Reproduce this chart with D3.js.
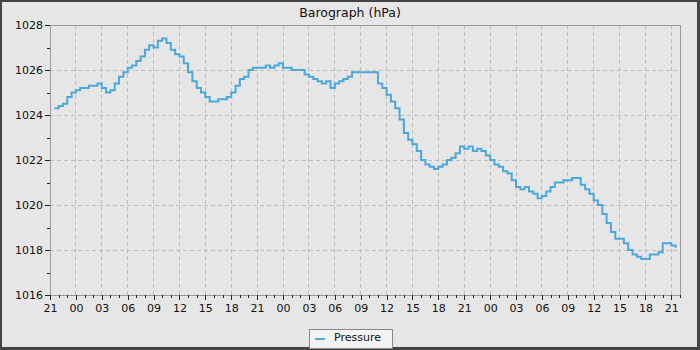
<!DOCTYPE html>
<html>
<head>
<meta charset="utf-8">
<script src="https://cdn.jsdelivr.net/npm/d3@7"></script>
<style>
  body { margin: 0; background: #e6e6e6; }
  svg { display: block; font-family: "DejaVu Sans", sans-serif; }
</style>
</head>
<body>
<div id="chart"></div>
<script>
// first reading and spacing of readings (half-hourly)
var startTime = new Date(Date.UTC(2024, 0, 1, 21, 30));
var stepMinutes = 30;

// pressure readings, hPa
var pressure = [
  1024.3, 1024.4, 1024.5, 1024.8, 1025.0, 1025.1, 1025.2, 1025.2, 1025.3, 1025.3,
  1025.4, 1025.2, 1025.0, 1025.1, 1025.4, 1025.7, 1025.9, 1026.1, 1026.2, 1026.4,
  1026.6, 1026.9, 1027.1, 1027.0, 1027.3, 1027.4, 1027.2, 1026.9, 1026.7, 1026.6,
  1026.3, 1025.9, 1025.5, 1025.2, 1025.0, 1024.8, 1024.6, 1024.6, 1024.7, 1024.7,
  1024.8, 1025.0, 1025.3, 1025.6, 1025.7, 1026.0, 1026.1, 1026.1, 1026.1, 1026.2,
  1026.1, 1026.2, 1026.3, 1026.1, 1026.1, 1026.0, 1026.0, 1026.0, 1025.8, 1025.7,
  1025.6, 1025.5, 1025.4, 1025.5, 1025.2, 1025.4, 1025.5, 1025.6, 1025.7, 1025.9,
  1025.9, 1025.9, 1025.9, 1025.9, 1025.9, 1025.4, 1025.2, 1024.9, 1024.6, 1024.3,
  1023.8, 1023.2, 1022.9, 1022.7, 1022.4, 1022.0, 1021.8, 1021.7, 1021.6, 1021.7,
  1021.8, 1022.0, 1022.1, 1022.3, 1022.6, 1022.5, 1022.6, 1022.4, 1022.5, 1022.4,
  1022.2, 1022.0, 1021.8, 1021.7, 1021.5, 1021.4, 1021.1, 1020.8, 1020.7, 1020.8,
  1020.6, 1020.5, 1020.3, 1020.4, 1020.6, 1020.8, 1021.0, 1021.0, 1021.1, 1021.1,
  1021.2, 1021.2, 1020.9, 1020.7, 1020.5, 1020.2, 1020.0, 1019.6, 1019.2, 1018.8,
  1018.5, 1018.5, 1018.3, 1018.0, 1017.8, 1017.7, 1017.6, 1017.6, 1017.8, 1017.8,
  1017.9, 1018.3, 1018.3, 1018.2, 1018.1
];

var timeDomain = [new Date(Date.UTC(2024, 0, 1, 21)), new Date(Date.UTC(2024, 0, 4, 22))];
var pressureDomain = [1016, 1028];
var pressureTicks = [1016, 1018, 1020, 1022, 1024, 1026, 1028];
var pressureMinorTicks = [1017, 1019, 1021, 1023, 1025, 1027];

var title = "Barograph (hPa)";
var seriesName = "Pressure";

var width = 700,
    height = 350,
    margin = { top: 25, right: 20, bottom: 55, left: 50 };

var data = pressure.map(function(p, i) {
    return { t: new Date(startTime.getTime() + i * stepMinutes * 60000), p: p };
});

var svg = d3.select('#chart').append('svg')
    .attr('width', width)
    .attr('height', height);

// outer panel with darker edge
svg.append('rect')
    .attr('width', width).attr('height', height)
    .attr('fill', '#444');
svg.append('rect')
    .attr('x', 2).attr('y', 2)
    .attr('width', width - 5).attr('height', height - 5)
    .attr('fill', '#e6e6e6');

var x = d3.scaleUtc()
    .domain(timeDomain)
    .range([margin.left, width - margin.right]);

var y = d3.scaleLinear()
    .domain(pressureDomain)
    .range([height - margin.bottom, margin.top]);

svg.append('text')
    .attr('x', width / 2)
    .attr('y', 17)
    .attr('text-anchor', 'middle')
    .attr('font-size', 12.5)
    .attr('fill', '#111')
    .text(title);

// grid
var grid = svg.append('g')
    .attr('stroke', '#bdbdbd')
    .attr('stroke-dasharray', '4,3')
    .attr('shape-rendering', 'crispEdges');

grid.selectAll('.vg')
    .data(x.ticks(d3.utcHour.every(3)))
    .enter().append('line')
    .attr('x1', function(d) { return x(d); })
    .attr('x2', function(d) { return x(d); })
    .attr('y1', margin.top)
    .attr('y2', height - margin.bottom);

grid.selectAll('.hg')
    .data(pressureTicks)
    .enter().append('line')
    .attr('x1', margin.left)
    .attr('x2', width - margin.right)
    .attr('y1', function(d) { return y(d); })
    .attr('y2', function(d) { return y(d); });

// plot frame
svg.append('rect')
    .attr('x', margin.left)
    .attr('y', margin.top)
    .attr('width', width - margin.left - margin.right)
    .attr('height', height - margin.top - margin.bottom)
    .attr('fill', 'none')
    .attr('stroke', '#999')
    .attr('shape-rendering', 'crispEdges');

// minor ticks
svg.append('g')
    .attr('transform', 'translate(0,' + (height - margin.bottom) + ')')
    .call(d3.axisBottom(x).ticks(d3.utcHour.every(1)).tickSize(3).tickFormat(''))
    .call(function(g) { g.select('.domain').remove(); });

svg.append('g')
    .attr('transform', 'translate(' + margin.left + ',0)')
    .call(d3.axisLeft(y).tickValues(pressureMinorTicks).tickSize(3).tickFormat(''))
    .call(function(g) { g.select('.domain').remove(); });

// major ticks + labels
var xAxis = svg.append('g')
    .attr('transform', 'translate(0,' + (height - margin.bottom) + ')')
    .call(d3.axisBottom(x).ticks(d3.utcHour.every(3)).tickSize(5).tickPadding(4)
        .tickFormat(d3.utcFormat('%H')));

var yAxis = svg.append('g')
    .attr('transform', 'translate(' + margin.left + ',0)')
    .call(d3.axisLeft(y).tickValues(pressureTicks).tickSize(5).tickPadding(2)
        .tickFormat(d3.format('d')));

[xAxis, yAxis].forEach(function(g) {
    g.select('.domain').remove();
    g.selectAll('text')
        .attr('font-family', '"DejaVu Sans", sans-serif')
        .attr('font-size', 11)
        .attr('fill', '#111');
});

svg.selectAll('.tick line').attr('stroke', '#222').attr('shape-rendering', 'crispEdges');

// pressure line
var line = d3.line()
    .curve(d3.curveStepAfter)
    .x(function(d) { return x(d.t); })
    .y(function(d) { return y(d.p); });

svg.append('path')
    .datum(data)
    .attr('fill', 'none')
    .attr('stroke', '#4ba8d8')
    .attr('stroke-width', 2)
    .attr('d', line);

// legend
var legend = svg.append('g').attr('transform', 'translate(309,329)');
legend.append('rect')
    .attr('x', 0.5).attr('y', 0.5)
    .attr('width', 83).attr('height', 19)
    .attr('fill', '#f3f3f3')
    .attr('stroke', '#888');
legend.append('line')
    .attr('x1', 6).attr('x2', 16)
    .attr('y1', 10).attr('y2', 10)
    .attr('stroke', '#4ba8d8')
    .attr('stroke-width', 2);
legend.append('text')
    .attr('x', 25)
    .attr('y', 12)
    .attr('font-size', 11)
    .attr('fill', '#111')
    .text(seriesName);
</script>
</body>
</html>
